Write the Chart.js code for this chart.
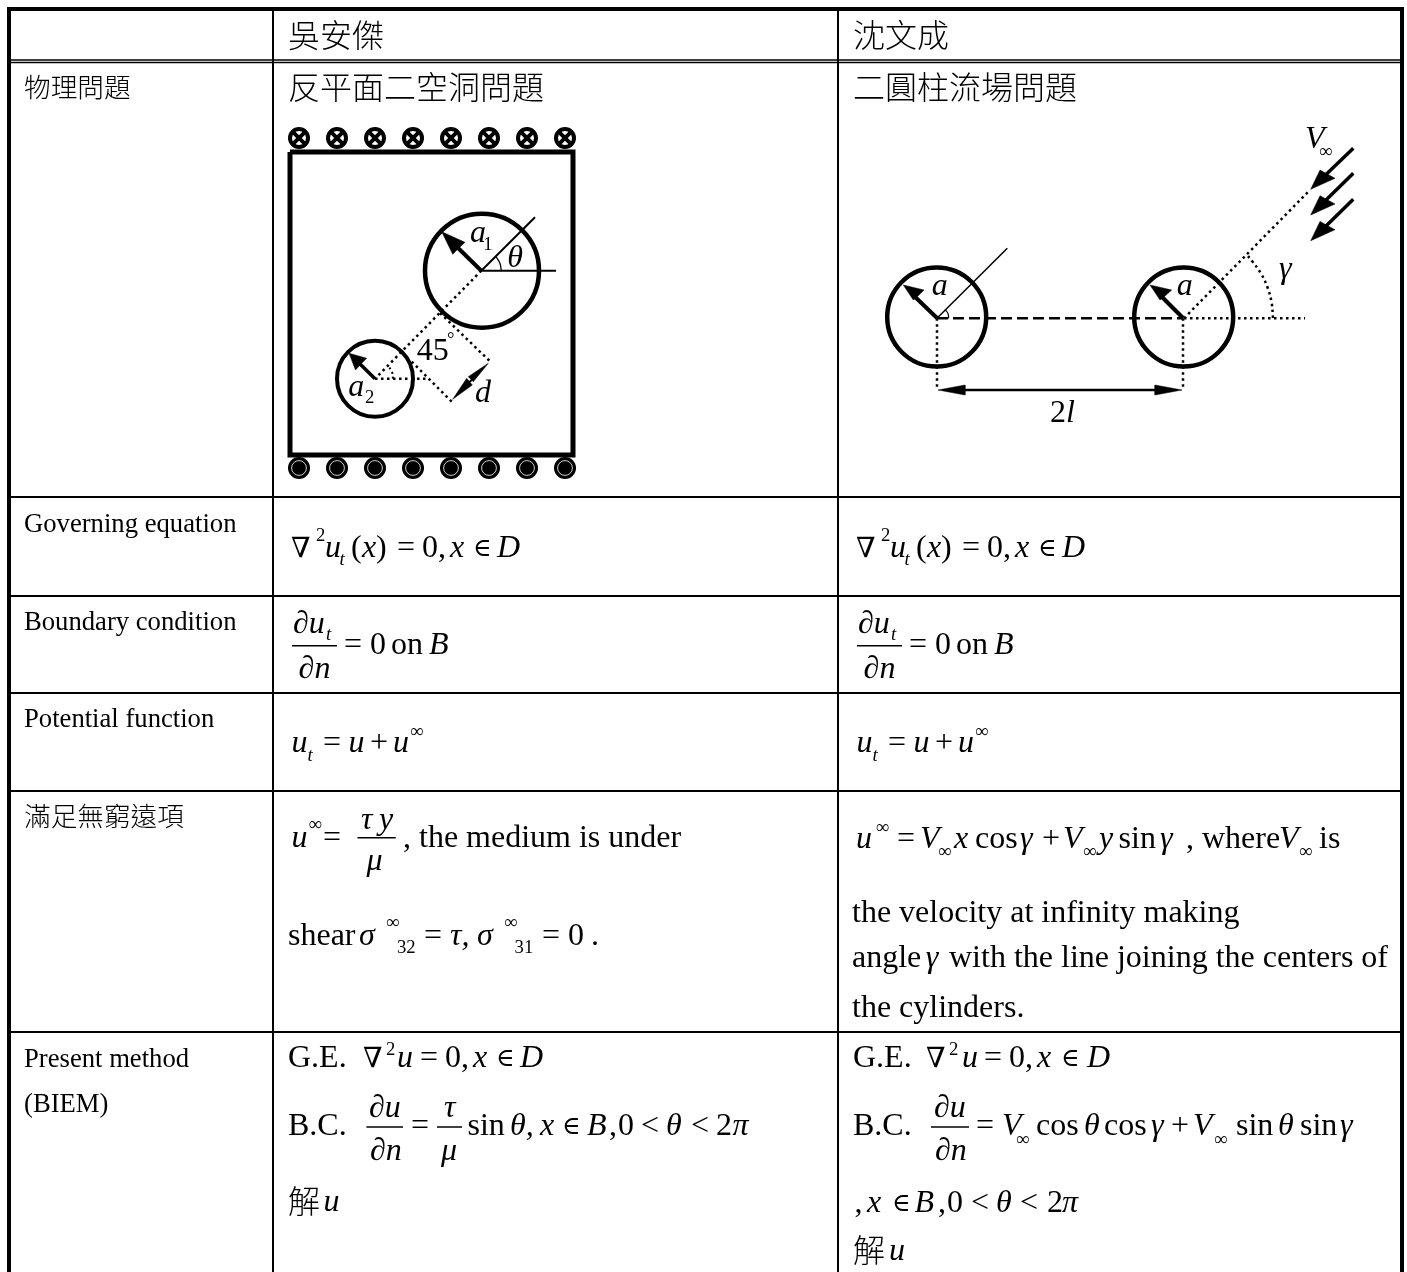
<!DOCTYPE html>
<html lang="en">
<head>
<meta charset="UTF-8">
<title>BIEM comparison table</title>
<script src="https://cdn.jsdelivr.net/npm/chart.js@4"></script>
<style>
  html, body { margin: 0; padding: 0; background: #fff; }
  canvas { display: block; }
</style>
</head>
<body>
<canvas id="table" width="1407" height="1272"></canvas>
<script>
// table rules, in picture pixels
// x runs right to left here: chart.js trims sorted lines to the visible x range
const outerBorder = [[1402,1272],[1402,9],[9,9],[9,1272]];
const headerRuleA = [[9,60],[1402,60]];
const headerRuleB = [[9,62.5],[1402,62.5]];
const columnRules = [[[273,9],[273,1272]],[[838,9],[838,1272]]];
const rowRules = [497,596,693,791,1032];

// left sketch: square hole problem
const boxOutline = [[290,152],[573,152],[573,455],[290,455],[290,152]];
const topMarksX = [299,337,375,413,451,489,527,565];
const bottomMarksX = [299,337,375,413,451,489,527,565];
const topMarksY = 138;
const bottomMarksY = 468;
const holes = [[482,270.7],[375,378.7]];
const thetaRay = [[481.3,270.7],[535,217.3]];
const thetaBase = [[481.3,270.7],[556,270.7]];
const thetaArc = [[501.3,270.7],[500,263.5],[496.5,257.5],[495.5,256.5]];
const a1Shaft = [[481.3,270.7],[455,245]];
const a1Head = [[441.7,231.7],[465,242.3],[459,248],[452.7,254.3]];
const a2Shaft = [[375,378.7],[358,362]];
const a2Head = [[349,353.3],[366.7,358.3],[361,364],[355.5,370]];
const centerDots = [[481.3,270.7],[375,378.7]];
const tangentDotsA = [[440,313],[491.7,363]];
const tangentDotsB = [[411.7,361.7],[453.3,403.3]];
const smallBaseDots = [[375,378.7],[426.7,378.7]];
const smallArcDots = [[393,378.7],[392,372],[388,365.5]];
const dShaft = [[466,385],[474,378]];
const dHeadA = [[488.3,363.3],[468.3,376.7],[473.3,381.7]];
const dHeadB = [[452.7,399.3],[466.7,378.3],[472.3,385]];

// right sketch: two cylinders
const cylinders = [[936.7,317],[1183.7,317]];
const centerDash = [[937,318.3],[1183,318.3]];
const baseDots = [[1184,318.3],[1305,318.3]];
const slantDots = [[1184,318.3],[1310,190]];
const leftRay = [[937,318.3],[1007.3,248.3]];
const leftArc = [[948.7,318.3],[948,313.5],[945,309.5]];
const gammaArc = [[1273,318],[1271.6,302.5],[1267.6,287.6],[1261,273.5],[1252,261],[1247,255]];
const dropLeft = [[937,318.3],[937,388]];
const dropRight = [[1183,318.3],[1183,388]];
const spanShaft = [[950,390],[1170,390]];
const spanHeadLeft = [[938,390],[965,385],[965,395]];
const spanHeadRight = [[1182,390],[1155,385],[1155,395]];
const leftArrowShaft = [[937,318],[912,294]];
const leftArrowHead = [[903.3,285],[924,290],[918,296],[913.3,300]];
const rightArrowShaft = [[1183,318],[1159,294]];
const rightArrowHead = [[1150,285],[1171.7,290],[1165,296],[1160,300]];
const flowShafts = [
  [[1353.3,148.3],[1325,175.5]],
  [[1353.3,173.3],[1325,201]],
  [[1353.3,199.3],[1325,227]]
];
const flowHeads = [
  [[1310.7,189.3],[1320,170],[1335,178.3]],
  [[1310.7,215],[1320,195.7],[1335,204]],
  [[1310.7,240.7],[1320,221.4],[1335,229.7]]
];

// fraction bars
const fractionBars = [
  [[292,645.7],[337,645.7]],
  [[857,645.7],[902,645.7]],
  [[357.5,837.7],[395.7,837.7]],
  [[366.4,1127],[403,1127]],
  [[437,1127],[462,1127]],
  [[931,1127],[969,1127]]
];

// text: x, baseline, string, kind
const headerTexts = [
  [288,47,'吳安傑','cjk'],[853,47,'沈文成','cjk'],
  [24,97,'物理問題','cjkS'],[288,99,'反平面二空洞問題','cjk'],[853,99,'二圓柱流場問題','cjk'],
  [24,532,'Governing equation','label'],[24,630,'Boundary condition','label'],
  [24,727,'Potential function','label'],[24,826,'滿足無窮遠項','cjkS'],
  [24,1067,'Present method','label'],[24,1112,'(BIEM)','label']
];
const sketchTexts = [
  [470,241.7,'a','i'],[483.3,250,'1','sub'],[507.3,266.7,'θ','i'],
  [416.7,360,'45','r'],[447,345,'°','sub'],
  [348.3,396,'a','i'],[365,403,'2','sub'],[475,401.7,'d','i'],
  [931.7,295,'a','i'],[1176.7,295,'a','i'],
  [1050,421.7,'2','r'],[1066,421.7,'l','i'],
  [1279,278,'γ','i'],[1305,148,'V','i'],[1319,157,'∞','sub']
];
// these three rows repeat in the right column, 565 px further on
const repeatedMath = [
  [291,556.7,'∇','sym'],[316,540.7,'2','sub'],[325,556.7,'u','i'],[339.6,565,'t','subI'],
  [351,556.7,'(','r'],[362,556.7,'x','i'],[376,556.7,')','r'],[397,556.7,'=','r'],
  [422,556.7,'0,','r'],[450,556.7,'x','i'],[473,555.7,'∈','elem'],[497,556.7,'D','i'],
  [293,632.7,'∂u','i'],[326,640,'t','subI'],[298.6,678,'∂n','i'],
  [344,654,'=','r'],[370,654,'0','r'],[391,654,'on','r'],[429,654,'B','i'],
  [291.4,751.7,'u','i'],[307.5,761,'t','subI'],[323,751.7,'=','r'],[348.6,751.7,'u','i'],
  [370,751.7,'+','r'],[393,751.7,'u','i'],[410,737,'∞','sub']
];
const leftFarField = [
  [291.4,846.7,'u','i'],[308.6,830,'∞','sub'],[323,846.7,'=','r'],
  [361,829,'τ','i'],[379,829,'y','i'],[366.4,870,'μ','i'],
  [403,846.7,', the medium is under','r'],
  [288,945,'shear','r'],[359,945,'σ','i'],[386,928,'∞','sub'],[397,953,'32','sub'],
  [424,945,'=','r'],[450,945,'τ,','i'],[477,945,'σ','i'],[504,928,'∞','sub'],[514.6,953,'31','sub'],
  [542,945,'=','r'],[568,945,'0','r'],[591,945,'.','r']
];
const rightFarField = [
  [856,848,'u','i'],[875.7,833,'∞','sub'],[897,848,'=','r'],[920,848,'V','i'],[938,857,'∞','sub'],
  [954,848,'x','i'],[975,848,'cos','r'],[1020,848,'γ','i'],[1042,848,'+','r'],[1063,848,'V','i'],
  [1083,857,'∞','sub'],[1099,848,'y','i'],[1118.6,848,'sin','r'],[1160,848,'γ','i'],
  [1186,848,', where','r'],[1279,848,'V','i'],[1299,857,'∞','sub'],[1319,848,'is','r'],
  [852,921.7,'the velocity at infinity making','r'],
  [852,966.7,'angle','r'],[925.7,966.7,'γ','i'],[949,966.7,'with the line joining the centers of','r'],
  [852,1016.7,'the cylinders.','r']
];
const leftMethod = [
  [288,1067,'G.E.','r'],[363,1067,'∇','sym'],[386,1055,'2','sub'],[397,1067,'u','i'],[420,1067,'=','r'],
  [445,1067,'0,','r'],[473,1067,'x','i'],[496,1066,'∈','elem'],[520,1067,'D','i'],
  [288,1135,'B.C.','r'],[369,1116.7,'∂u','i'],[370,1160,'∂n','i'],[411,1135,'=','r'],
  [444,1116.7,'τ','i'],[441,1160,'μ','i'],[467.5,1135,'sin','r'],[510,1135,'θ,','i'],
  [540,1135,'x','i'],[562,1134,'∈','elem'],[587,1135,'B','i'],[609,1135,',','r'],[618,1135,'0','r'],
  [641,1135,'<','r'],[666,1135,'θ','i'],[691,1135,'<','r'],[716,1135,'2','r'],[732.5,1135,'π','i'],
  [288,1213,'解','cjk'],[323.6,1211,'u','i']
];
const rightMethod = [
  [853,1067,'G.E.','r'],[926,1067,'∇','sym'],[949,1055,'2','sub'],[962,1067,'u','i'],[984,1067,'=','r'],
  [1009,1067,'0,','r'],[1037,1067,'x','i'],[1061,1066,'∈','elem'],[1087,1067,'D','i'],
  [853,1135,'B.C.','r'],[934,1116.7,'∂u','i'],[935,1160,'∂n','i'],[976,1135,'=','r'],
  [1002,1135,'V','i'],[1016,1145,'∞','sub'],[1036,1135,'cos','r'],[1084,1135,'θ','i'],[1104,1135,'cos','r'],
  [1151,1135,'γ','i'],[1171,1135,'+','r'],[1193,1135,'V','i'],[1214,1145,'∞','sub'],[1236,1135,'sin','r'],
  [1278,1135,'θ','i'],[1300,1135,'sin','r'],[1340,1135,'γ','i'],
  [854.5,1212,',','r'],[867,1212,'x','i'],[892,1211,'∈','elem'],[914.5,1212,'B','i'],[938,1212,',','r'],
  [947,1212,'0','r'],[971,1212,'<','r'],[996,1212,'θ','i'],[1020,1212,'<','r'],[1047,1212,'2','r'],[1062,1212,'π','i'],
  [853,1262,'解','cjk'],[889,1260,'u','i']
];

const serif = '"Liberation Serif", "DejaVu Serif", serif';
const cjkFont = '"Noto Sans CJK TC", sans-serif';
const fonts = {
  r: '32px ' + serif,
  i: 'italic 32px ' + serif,
  sub: '18.7px ' + serif,
  subI: 'italic 18.7px ' + serif,
  label: '26.67px ' + serif,
  sym: '28px ' + serif,
  elem: '25px ' + serif,
  cjk: '300 32px ' + cjkFont,
  cjkS: '300 26.67px ' + cjkFont
};

function toPoints(pts) { return pts.map(p => ({x: p[0], y: p[1]})); }

function line(pts, width, dash) {
  return {
    type: 'scatter', data: toPoints(pts), showLine: true, borderColor: '#000', borderWidth: width,
    borderDash: dash || [], pointRadius: 0, fill: false, clip: false
  };
}
function smooth(pts, width, dash) {
  return Object.assign(line(pts, width, dash), {tension: 0.4});
}
function solid(pts) {
  return {
    type: 'scatter', data: toPoints(pts.concat([pts[0]])), showLine: true, borderColor: '#000', borderWidth: 0.5,
    backgroundColor: '#000', pointRadius: 0, fill: 'shape', clip: false
  };
}
function marks(xs, y, radius, opts) {
  return Object.assign({
    type: 'scatter', data: xs.map(x => ({x: x, y: y})), showLine: false, pointStyle: 'circle', pointRadius: radius,
    pointBackgroundColor: '#000', pointBorderColor: '#000', pointBorderWidth: 0, clip: false
  }, opts);
}
function ring(pts, radius, width) {
  return {
    type: 'scatter', data: toPoints(pts), showLine: false, pointStyle: 'circle', pointRadius: radius,
    pointBackgroundColor: 'rgba(0,0,0,0)', pointBorderColor: '#000', pointBorderWidth: width, clip: false
  };
}

const dot = [2.5,3.5];
// chart.js draws the first dataset on top, so overlays come before what they cover
const datasets = [
  line(outerBorder, 4),
  line(headerRuleA, 1.5), line(headerRuleB, 1.5),
  ...columnRules.map(r => line(r, 2)),
  ...rowRules.map(y => line([[9,y],[1402,y]], 2)),

  line(boxOutline, 5),
  marks(topMarksX, topMarksY, 8, {pointStyle: 'crossRot', pointBorderWidth: 4}),
  marks(topMarksX, topMarksY, 9, {pointBackgroundColor: '#fff', pointBorderWidth: 4}),
  marks(bottomMarksX, bottomMarksY, 7.4, {pointBorderColor: '#fff', pointBorderWidth: 0.8}),
  marks(bottomMarksX, bottomMarksY, 11),
  ring([holes[0]], 57, 4.5),
  ring([holes[1]], 38, 4),
  line(thetaRay, 2), line(thetaBase, 2), smooth(thetaArc, 1.3),
  line(a1Shaft, 4), solid(a1Head), line(a2Shaft, 3.5), solid(a2Head),
  line(centerDots, 2.5, dot), line(tangentDotsA, 2.5, dot), line(tangentDotsB, 2.5, dot),
  line(smallBaseDots, 2.5, dot), smooth(smallArcDots, 2, [2,3]),
  line(dShaft, 2), solid(dHeadA), solid(dHeadB),

  ring(cylinders, 49.5, 4.5),
  line(centerDash, 2.5, [11,5]), line(baseDots, 2.5, dot), line(slantDots, 2.5, dot),
  line(leftRay, 1.5), smooth(leftArc, 1.2), smooth(gammaArc, 2.5, dot),
  line(dropLeft, 2.5, dot), line(dropRight, 2.5, dot),
  line(spanShaft, 2.5), solid(spanHeadLeft), solid(spanHeadRight),
  line(leftArrowShaft, 4), solid(leftArrowHead), line(rightArrowShaft, 4), solid(rightArrowHead),
  ...flowShafts.map(s => line(s, 3.5)), ...flowHeads.map(solid),

  ...fractionBars.map(b => line(b, 1.5))
];

const textPlugin = {
  id: 'cellText',
  afterDatasetsDraw(chart) {
    const ctx = chart.ctx, sx = chart.scales.x, sy = chart.scales.y;
    ctx.save();
    ctx.fillStyle = '#000';
    ctx.textBaseline = 'alphabetic';
    function put(list, dx) {
      list.forEach(t => {
        ctx.font = fonts[t[3]];
        ctx.fillText(t[2], sx.getPixelForValue(t[0] + dx), sy.getPixelForValue(t[1]));
      });
    }
    put(headerTexts, 0); put(sketchTexts, 0);
    put(repeatedMath, 0); put(repeatedMath, 565);
    put(leftFarField, 0); put(rightFarField, 0);
    put(leftMethod, 0); put(rightMethod, 0);
    ctx.restore();
  }
};

// the biggest ring (radius 57 + border 4.5) makes chart.js inset the plot by 61.5px,
// so the scale starts there too and values stay equal to canvas pixels
const areaInset = 61.5;

new Chart(document.getElementById('table'), {
  data: { datasets: datasets },
  options: {
    responsive: false,
    animation: false,
    layout: { padding: 0 },
    events: [],
    plugins: { legend: { display: false }, tooltip: { enabled: false }, title: { display: false } },
    scales: {
      x: { type: 'linear', min: areaInset, max: 1407 - areaInset, display: false },
      y: { type: 'linear', min: areaInset, max: 1272 - areaInset, reverse: true, display: false }
    }
  },
  plugins: [textPlugin]
});
</script>
</body>
</html>
